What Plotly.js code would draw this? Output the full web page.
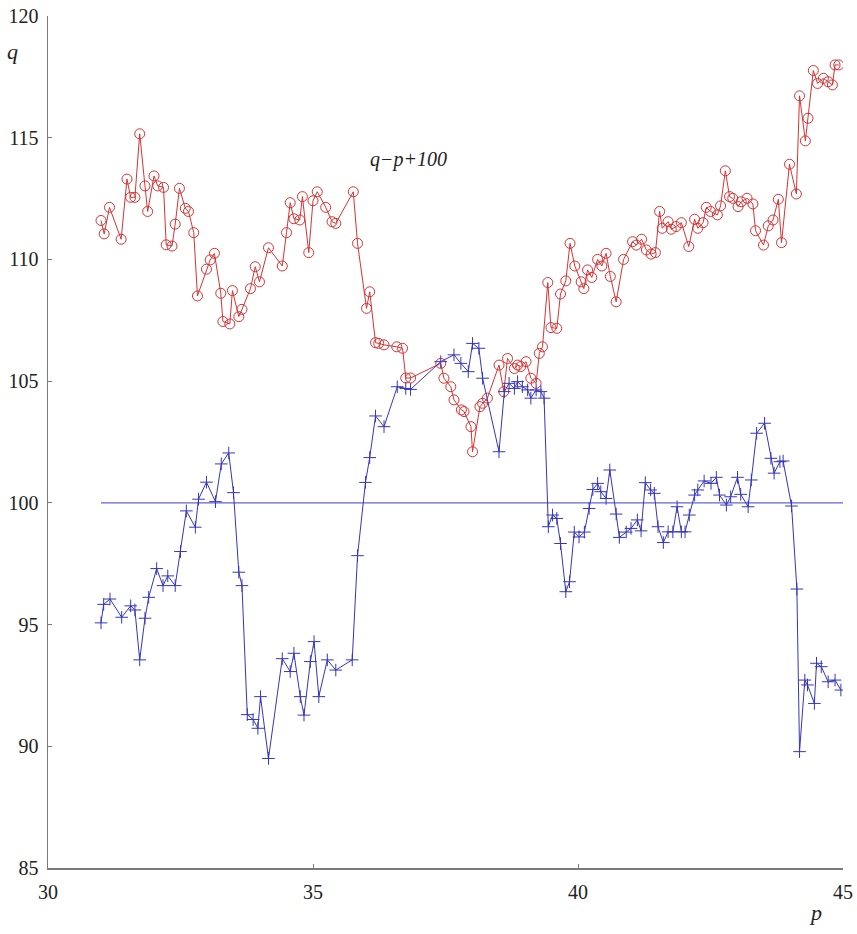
<!DOCTYPE html>
<html>
<head>
<meta charset="utf-8">
<script src="https://cdn.plot.ly/plotly-3.0.1.min.js"></script>
<style>
  html, body { margin: 0; padding: 0; background: #ffffff; }
  #chart { width: 857px; height: 934px; }
</style>
</head>
<body>
<div id="chart"></div>
<script>
// q against p (blue, "+" markers)
const pBlue = [31.00, 31.05, 31.17, 31.39, 31.56, 31.64, 31.73, 31.83, 31.90, 32.05,
  32.17, 32.26, 32.40, 32.50, 32.61, 32.78, 32.84, 32.99, 33.16, 33.27,
  33.41, 33.50, 33.60, 33.66, 33.76, 33.87, 33.96, 34.01, 34.16, 34.42,
  34.57, 34.64, 34.76, 34.83, 34.95, 35.02, 35.11, 35.27, 35.43, 35.74,
  35.84, 35.99, 36.07, 36.18, 36.34, 36.59, 36.75, 36.84, 37.41, 37.66,
  37.79, 37.93, 38.01, 38.13, 38.20, 38.51, 38.61, 38.70, 38.80, 38.86,
  38.95, 39.05, 39.11, 39.21, 39.30, 39.36, 39.44, 39.52, 39.60, 39.67,
  39.77, 39.84, 39.93, 40.02, 40.12, 40.21, 40.28, 40.37, 40.43, 40.53,
  40.60, 40.72, 40.78, 40.91, 41.00, 41.12, 41.19, 41.27, 41.37, 41.44,
  41.51, 41.61, 41.70, 41.79, 41.87, 41.95, 42.02, 42.10, 42.20, 42.26,
  42.38, 42.51, 42.61, 42.67, 42.80, 42.88, 43.01, 43.07, 43.21, 43.27,
  43.37, 43.52, 43.64, 43.70, 43.81, 43.87, 44.03, 44.13, 44.18, 44.28,
  44.33, 44.46, 44.50, 44.59, 44.72, 44.85, 44.96];
const qBlue = [95.07, 95.83, 96.05, 95.30, 95.77, 95.60, 93.55, 95.26, 96.12, 97.30,
  96.60, 97.00, 96.60, 98.00, 99.67, 99.00, 100.15, 100.85, 100.05, 101.60,
  102.05, 100.42, 97.15, 96.60, 91.30, 91.10, 90.74, 92.04, 89.50, 93.60,
  93.07, 93.82, 92.04, 91.28, 93.48, 94.30, 92.04, 93.55, 93.13, 93.55,
  97.83, 100.84, 101.86, 103.57, 103.13, 104.77, 104.70, 104.66, 105.80, 106.08,
  105.73, 105.39, 106.55, 106.35, 105.12, 102.10, 104.57, 104.91, 104.70, 104.98,
  104.77, 104.64, 104.30, 104.64, 104.57, 104.30, 99.02, 99.50, 99.36, 98.33,
  96.35, 96.76, 98.80, 98.60, 98.80, 99.77, 100.55, 100.80, 100.46, 100.18,
  101.35, 99.54, 98.58, 98.80, 98.95, 99.30, 98.85, 100.83, 100.53, 100.39,
  99.02, 98.37, 98.81, 98.81, 99.84, 98.81, 98.81, 99.50, 100.32, 100.53,
  100.90, 100.80, 101.05, 100.32, 99.91, 100.25, 101.05, 100.35, 99.84, 100.94,
  102.86, 103.27, 101.83, 101.22, 101.69, 101.72, 99.87, 96.46, 89.78, 92.72,
  92.52, 91.76, 93.41, 93.27, 92.65, 92.72, 92.31];

// q - p + 100 against p (red, open circles)
const pRed = [31.00, 31.06, 31.16, 31.38, 31.49, 31.56, 31.64, 31.73, 31.83, 31.88,
  32.00, 32.07, 32.18, 32.23, 32.34, 32.40, 32.48, 32.59, 32.65, 32.75,
  32.82, 32.99, 33.06, 33.14, 33.26, 33.30, 33.43, 33.48, 33.60, 33.66,
  33.82, 33.91, 33.99, 34.16, 34.42, 34.50, 34.57, 34.64, 34.75, 34.80,
  34.92, 35.00, 35.08, 35.24, 35.36, 35.43, 35.76, 35.84, 36.01, 36.07,
  36.18, 36.24, 36.34, 36.58, 36.69, 36.75, 36.84, 37.41, 37.47, 37.60,
  37.66, 37.80, 37.85, 37.98, 38.01, 38.15, 38.20, 38.29, 38.51, 38.60,
  38.67, 38.80, 38.86, 38.92, 39.02, 39.11, 39.21, 39.27, 39.33, 39.43,
  39.49, 39.60, 39.67, 39.77, 39.85, 39.94, 40.06, 40.11, 40.18, 40.26,
  40.37, 40.45, 40.53, 40.61, 40.72, 40.86, 41.03, 41.10, 41.20, 41.29,
  41.38, 41.46, 41.54, 41.59, 41.70, 41.76, 41.85, 41.95, 42.09, 42.20,
  42.26, 42.36, 42.42, 42.50, 42.63, 42.69, 42.78, 42.86, 42.92, 43.02,
  43.08, 43.19, 43.30, 43.35, 43.50, 43.59, 43.68, 43.78, 43.84, 43.99,
  44.12, 44.18, 44.29, 44.34, 44.44, 44.52, 44.63, 44.72, 44.80, 44.85,
  44.92];
const qRed = [111.60, 111.05, 112.14, 110.83, 113.30, 112.55, 112.55, 115.16, 113.02, 111.97,
  113.43, 113.02, 112.96, 110.60, 110.55, 111.45, 112.92, 112.10, 111.97, 111.10,
  108.50, 109.60, 109.98, 110.25, 108.61, 107.45, 107.35, 108.72, 107.65, 107.95,
  108.80, 109.70, 109.08, 110.48, 109.73, 111.10, 112.33, 111.67, 111.62, 112.58,
  110.28, 112.41, 112.78, 112.14, 111.55, 111.48, 112.78, 110.66, 107.99, 108.67,
  106.58, 106.55, 106.49, 106.41, 106.35, 105.13, 105.13, 105.73, 105.12, 104.77,
  104.23, 103.82, 103.75, 103.13, 102.10, 103.95, 104.09, 104.30, 105.66, 104.57,
  105.93, 105.52, 105.66, 105.60, 105.80, 105.12, 104.91, 106.14, 106.41, 109.05,
  107.20, 107.17, 108.58, 109.12, 110.66, 109.73, 109.08, 108.80, 109.57, 109.26,
  110.00, 109.73, 110.25, 109.30, 108.26, 110.00, 110.73, 110.59, 110.83, 110.39,
  110.22, 110.28, 111.97, 111.28, 111.55, 111.24, 111.35, 111.51, 110.53, 111.65,
  111.28, 111.51, 112.14, 111.97, 111.83, 112.20, 113.64, 112.58, 112.51, 112.17,
  112.37, 112.51, 112.28, 111.18, 110.59, 111.38, 111.62, 112.47, 110.69, 113.91,
  112.69, 116.72, 114.87, 115.80, 117.76, 117.23, 117.44, 117.30, 117.17, 117.99,
  117.99];

// reference level q = 100
const pLevel = [31.0, 45.0];
const qLevel = [100, 100];

const xTicks = [30, 35, 40, 45];
const yTicks = [85, 90, 95, 100, 105, 110, 115, 120];

const serif = '"Liberation Serif", "Times New Roman", Times, "DejaVu Serif", serif';
const red = '#d63333';
const blue = '#3535bd';

const traces = [
  {
    x: pLevel, y: qLevel, type: 'scatter', mode: 'lines',
    line: { color: '#6464d6', width: 1.2 },
    hoverinfo: 'skip'
  },
  {
    x: pRed, y: qRed, type: 'scatter', mode: 'lines+markers',
    line: { color: red, width: 1 },
    marker: { symbol: 'circle-open', size: 10, color: red, line: { color: red, width: 1 } }
  },
  {
    x: pBlue, y: qBlue, type: 'scatter', mode: 'lines+markers',
    line: { color: blue, width: 1 },
    marker: { symbol: 'cross-thin-open', size: 9, color: blue, line: { color: blue, width: 1 } }
  }
];

const axisCommon = {
  showgrid: false,
  zeroline: false,
  showline: true,
  linecolor: '#7a7a7a',
  linewidth: 1.5,
  ticks: 'inside',
  ticklen: 4,
  tickwidth: 1,
  tickcolor: '#7a7a7a',
  tickfont: { family: serif, size: 20, color: '#222222' },
  fixedrange: true
};

const layout = {
  width: 857,
  height: 934,
  margin: { l: 48, r: 14, t: 16, b: 66 },
  paper_bgcolor: '#ffffff',
  plot_bgcolor: '#ffffff',
  showlegend: false,
  font: { family: serif },
  xaxis: Object.assign({}, axisCommon, {
    range: [30, 45], tickmode: 'array', tickvals: xTicks,
    ticklabelstandoff: 5
  }),
  yaxis: Object.assign({}, axisCommon, {
    range: [85, 120], tickmode: 'array', tickvals: yTicks,
    ticklabelstandoff: 4
  }),
  annotations: [
    {
      text: 'q', xref: 'paper', yref: 'paper', x: -0.045, y: 0.958,
      xanchor: 'center', yanchor: 'middle',
      showarrow: false, font: { family: serif, size: 22, color: '#222222', style: 'italic' }
    },
    {
      text: 'p', xref: 'paper', yref: 'paper', x: 0.965, y: -0.052,
      xanchor: 'center', yanchor: 'middle',
      showarrow: false, font: { family: serif, size: 22, color: '#222222', style: 'italic' }
    },
    {
      text: 'q\u2212p+100', xref: 'x', yref: 'y', x: 36.8, y: 114.1,
      xanchor: 'center', yanchor: 'middle',
      showarrow: false, font: { family: serif, size: 20, color: '#222222', style: 'italic' }
    }
  ]
};

Plotly.newPlot('chart', traces, layout, { displayModeBar: false, staticPlot: true });
</script>
</body>
</html>
